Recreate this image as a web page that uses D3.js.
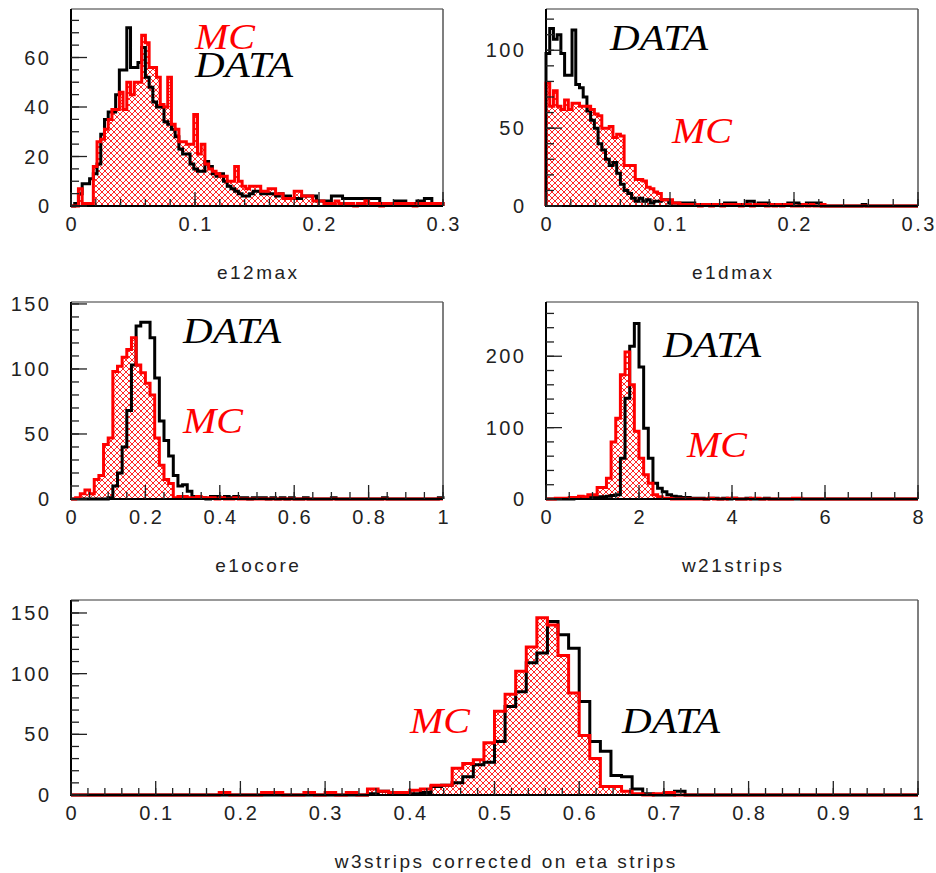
<!DOCTYPE html>
<html><head><meta charset="utf-8">
<script src="https://cdn.jsdelivr.net/npm/d3@7"></script>
<style>
html,body{margin:0;padding:0;background:#fff;}
svg{display:block;}
</style></head><body>
<svg id="c" width="936" height="873"></svg>
<script>
// ---------- DATA ----------
// e12max: 100 bins on [0,0.3]
const e12maxData = [0,1,5,9,9,11,13,17,29,35, 38,38,45,55,55,72,56,56,58,64,
 52,48,42,40,40,34,33,31,28,23, 21,21,17,15,14,14,18,16,13,12,
 13,10,8,7,6,5,4,4,5,6, 6,5,5,5,5,4,5,4,4,3,
 3,3,4,4,4,4,2,2,2,2, 4,4,4,3,3,3,3,3,3,3,
 3,3,3,1,1,1,1,2,2,2, 1,1,1,2,2,3,3,1,1,1];
const e12maxMC = [0,0,7,1,1,1,16,26,27,31, 35,39,39,46,39,50,45,50,50,69,
 66,56,56,52,41,40,52,33,31,26, 26,25,25,37,21,25,17,15,14,13,
 12,12,10,10,16,10,8,7,8,8, 8,6,6,7,7,5,5,3,3,3,
 6,6,4,4,4,2,2,2,1,1, 1,2,1,1,1,1,0,1,1,2,
 1,1,1,0,1,1,1,1,1,1, 1,1,0,1,1,1,1,1,1,1];
const e12maxXTicks = [0,0.1,0.2,0.3];
const e12maxYTicks = [0,20,40,60];

// e1dmax: 100 bins on [0,0.3]
const e1dmaxData = [98,114,107,110,98,84,84,113,78,76, 70,61,55,50,40,36,30,26,28,21,
 14,10,8,5,3,5,3,4,2,3, 3,4,4,2,2,2,2,2,2,2,
 1,1,1,1,1,1,1,1,2,2, 2,1,1,1,3,3,1,2,2,2,
 1,1,1,1,1,2,2,2,1,1, 2,2,2,2,0,0,0,0,0,0,
 0,0,0,0,0,1,0,0,0,0, 0,0,0,0,0,0,0,0,0,0];
const e1dmaxMC = [79,64,74,64,62,68,62,66,66,64, 64,64,62,59,58,50,50,51,44,46,
 45,26,26,26,17,17,16,12,11,9, 8,4,4,4,2,2,1,1,1,1,
 1,0,1,1,0,1,1,0,1,1, 1,1,0,1,1,0,1,1,1,0,
 1,0,1,0,1,1,0,0,0,1, 0,1,0,0,1,0,0,0,0,0,
 0,0,0,0,0,0,0,0,0,0, 0,0,0,0,0,0,0,0,0,0];
const e1dmaxXTicks = [0,0.1,0.2,0.3];
const e1dmaxYTicks = [0,50,100];

// e1ocore: 80 bins on [0,1]
const e1ocoreData = [0,0,0,0,0,0,0,0,1,10, 20,40,68,103,133,136,136,124,93,60,
 45,33,18,10,11,6,2,1,1,0, 2,2,1,2,1,2,1,1,0,1,
 1,1,0,1,0,1,0,1,0,0, 1,0,0,0,0,0,1,0,0,0,
 0,0,0,0,0,0,0,1,0,0, 0,0,0,0,0,0,0,0,0,1];
const e1ocoreMC = [0,1,4,7,4,15,18,42,47,98, 102,109,115,124,103,97,89,80,47,26,
 15,12,1,2,2,1,1,2,1,1, 1,0,1,0,0,1,0,0,0,0,
 0,0,0,0,0,0,0,0,0,0, 0,0,0,0,0,0,0,0,0,0,
 0,0,0,0,0,0,0,0,0,0, 0,0,0,0,0,0,0,0,0,0];
const e1ocoreXTicks = [0,0.2,0.4,0.6,0.8,1];
const e1ocoreYTicks = [0,50,100,150];

// w21strips: 80 bins on [0,8]
const w21stripsData = [0,0,0,0,0,0,1,1,1,2, 2,3,3,4,5,6,57,141,214,246,
 185,99,57,22,15,10,6,4,3,2, 2,1,1,1,0,1,1,0,1,0,
 1,0,0,1,0,0,0,1,0,0, 0,0,0,0,0,0,0,0,0,0,
 0,0,0,0,0,0,0,0,0,0, 0,0,0,0,0,0,0,0,0,0];
const w21stripsMC = [0,0,1,1,1,2,2,4,3,6, 6,16,16,29,80,113,174,206,160,95,
 57,34,22,6,3,1,1,0,0,0, 0,0,0,0,0,1,0,0,0,1,
 1,0,0,0,1,1,0,0,0,0, 0,0,0,1,1,0,0,0,0,0,
 0,0,0,0,0,0,0,0,0,0, 0,0,0,0,0,0,0,0,0,0];
const w21stripsXTicks = [0,2,4,6,8];
const w21stripsYTicks = [0,100,200];

// w3strips: 80 bins on [0,1]
const w3stripsData = [0,0,0,0,0,0,0,0,0,0, 0,0,0,0,0,0,0,0,0,0,
 0,0,0,0,0,0,0,0,1,3, 1,2,1,2,7,8,10,15,25,27,
 44,73,85,109,117,143,132,121,77,44, 36,16,15,5,1,0,0,3,0,0,
 0,0,0,0,0,0,0,0,0,0, 0,0,0,0,0,0,0,0,0,0];
const w3stripsMC = [0,0,0,0,0,0,0,0,0,0, 0,0,0,0,2,0,0,0,2,2,
 0,0,2,0,2,0,2,0,5,3, 2,2,4,5,8,8,22,26,29,43,
 69,83,102,122,146,140,115,84,49,30, 7,7,3,1,0,1,2,0,0,0,
 0,0,0,0,0,0,0,0,0,0, 0,0,0,0,0,0,0,0,0,0];
const w3stripsXTicks = [0,0.1,0.2,0.3,0.4,0.5,0.6,0.7,0.8,0.9,1];
const w3stripsYTicks = [0,50,100,150];

// ---------- LAYOUT ----------
const panels = [
  {x0:71, x1:443, y0:9, y1:206, xDomain:[0,0.3], yMax:79.6, data:e12maxData, mc:e12maxMC,
   xTicks:e12maxXTicks, xMinor:0.02, yTicks:e12maxYTicks, yMinor:5, title:'e12max', titleX:257,
   labels:[{t:'MC',c:'#ff0000',x:195,y:49},{t:'DATA',c:'#000',x:195,y:77}]},
  {x0:546, x1:918, y0:9, y1:206, xDomain:[0,0.3], yMax:126.5, data:e1dmaxData, mc:e1dmaxMC,
   xTicks:e1dmaxXTicks, xMinor:0.02, yTicks:e1dmaxYTicks, yMinor:10, title:'e1dmax', titleX:732,
   labels:[{t:'DATA',c:'#000',x:610,y:50},{t:'MC',c:'#ff0000',x:672,y:143}]},
  {x0:71, x1:443, y0:302, y1:499, xDomain:[0,1], yMax:151.5, data:e1ocoreData, mc:e1ocoreMC,
   xTicks:e1ocoreXTicks, xMinor:0.05, yTicks:e1ocoreYTicks, yMinor:10, title:'e1ocore', titleX:257,
   labels:[{t:'DATA',c:'#000',x:183,y:343},{t:'MC',c:'#ff0000',x:183,y:433}]},
  {x0:546, x1:918, y0:302, y1:499, xDomain:[0,8], yMax:276, data:w21stripsData, mc:w21stripsMC,
   xTicks:w21stripsXTicks, xMinor:0.5, yTicks:w21stripsYTicks, yMinor:20, title:'w21strips', titleX:732,
   labels:[{t:'DATA',c:'#000',x:663,y:357},{t:'MC',c:'#ff0000',x:687,y:457}]},
  {x0:71, x1:918, y0:600, y1:795, xDomain:[0,1], yMax:160.7, data:w3stripsData, mc:w3stripsMC,
   xTicks:w3stripsXTicks, xMinor:0.02, yTicks:w3stripsYTicks, yMinor:10, title:'w3strips corrected on eta strips', titleX:505,
   labels:[{t:'MC',c:'#ff0000',x:410,y:733},{t:'DATA',c:'#000',x:622,y:733}]}
];
const labelWidths = {MC:60, DATA:98};

const svg = d3.select('#c');
svg.append('rect').attr('width',936).attr('height',873).attr('fill','#fff');
const defs = svg.append('defs');
const pat = defs.append('pattern').attr('id','hatch').attr('patternUnits','userSpaceOnUse')
  .attr('width',6).attr('height',6);
pat.append('path').attr('d','M0,0L6,6M6,0L0,6').attr('stroke','#ff0000').attr('stroke-width',0.85).attr('fill','none');

const tickFont = "'Liberation Sans', Arial, sans-serif";
const fmt = v => String(Math.round(v*100)/100);
const LS = 2.5;

function stepPoints(vals, x, y, d0, bw){
  const n = vals.length;
  const pts = [[x(d0), y(0)]];
  vals.forEach((v,i)=>pts.push([x(d0+i*bw), y(v)]));
  pts.push([x(d0+n*bw), y(vals[n-1])]);
  pts.push([x(d0+n*bw), y(0)]);
  return pts;
}

panels.forEach(p=>{
  const x = d3.scaleLinear().domain(p.xDomain).range([p.x0,p.x1]);
  const y = d3.scaleLinear().domain([0,p.yMax]).range([p.y1,p.y0]);
  const g = svg.append('g');
  const bwD = (p.xDomain[1]-p.xDomain[0])/p.data.length;
  const bwM = (p.xDomain[1]-p.xDomain[0])/p.mc.length;
  const line = d3.line().curve(d3.curveStepAfter);
  const mcPts = stepPoints(p.mc, x, y, p.xDomain[0], bwM);
  const dPts = stepPoints(p.data, x, y, p.xDomain[0], bwD);

  g.append('path').attr('d', line(mcPts)+'Z').attr('fill','url(#hatch)').attr('stroke','none');
  g.append('path').attr('d', line(dPts)).attr('fill','none').attr('stroke','#000').attr('stroke-width',3).attr('stroke-linejoin','miter');
  g.append('path').attr('d', line(mcPts)).attr('fill','none').attr('stroke','#ff0000').attr('stroke-width',3).attr('stroke-linejoin','miter');

  // frame
  g.append('line').attr('x1',p.x0).attr('x2',p.x1).attr('y1',p.y0).attr('y2',p.y0).attr('stroke','#777').attr('stroke-width',1.5);
  g.append('line').attr('x1',p.x1).attr('x2',p.x1).attr('y1',p.y0).attr('y2',p.y1).attr('stroke','#555').attr('stroke-width',1.5);
  g.append('line').attr('x1',p.x0).attr('x2',p.x0).attr('y1',p.y0).attr('y2',p.y1+1).attr('stroke','#000').attr('stroke-width',2);
  g.append('line').attr('x1',p.x0-1).attr('x2',p.x1).attr('y1',p.y1).attr('y2',p.y1).attr('stroke','#000').attr('stroke-width',2.2);

  // x ticks
  const xMin = d3.range(p.xDomain[0], p.xDomain[1]+1e-9, p.xMinor);
  g.selectAll(null).data(xMin).enter().append('line')
    .attr('x1',d=>x(d)).attr('x2',d=>x(d)).attr('y1',p.y1).attr('y2',p.y1-7)
    .attr('stroke','#222').attr('stroke-width',1.3);
  g.selectAll(null).data(p.xTicks).enter().append('line')
    .attr('x1',d=>x(d)).attr('x2',d=>x(d)).attr('y1',p.y1).attr('y2',p.y1-14)
    .attr('stroke','#222').attr('stroke-width',1.3);
  g.selectAll(null).data(p.xTicks).enter().append('text')
    .attr('x',d=>x(d)+LS/2).attr('y',p.y1+25).attr('text-anchor','middle')
    .attr('font-family',tickFont).attr('font-size',20).attr('letter-spacing',LS).attr('fill','#222')
    .text(fmt);

  // y ticks
  const yMin = d3.range(0, p.yMax, p.yMinor);
  g.selectAll(null).data(yMin).enter().append('line')
    .attr('x1',p.x0).attr('x2',p.x0+8).attr('y1',d=>y(d)).attr('y2',d=>y(d))
    .attr('stroke','#222').attr('stroke-width',1.3);
  g.selectAll(null).data(p.yTicks).enter().append('line')
    .attr('x1',p.x0).attr('x2',p.x0+16).attr('y1',d=>y(d)).attr('y2',d=>y(d))
    .attr('stroke','#222').attr('stroke-width',1.3);
  g.selectAll(null).data(p.yTicks).enter().append('text')
    .attr('x',p.x0-22+LS).attr('y',d=>y(d)+7).attr('text-anchor','end')
    .attr('font-family',tickFont).attr('font-size',20).attr('letter-spacing',LS).attr('fill','#222')
    .text(fmt);

  // title
  g.append('text').attr('x',p.titleX+LS/2).attr('y',p.y1+73).attr('text-anchor','middle')
    .attr('font-family',tickFont).attr('font-size',19).attr('letter-spacing',LS).attr('fill','#222')
    .text(p.title);

  // labels
  p.labels.forEach(l=>{
    g.append('text').attr('x',l.x).attr('y',l.y)
      .attr('font-family',"'Liberation Serif','Times New Roman',serif").attr('font-style','italic')
      .attr('font-size',36).attr('fill',l.c)
      .attr('textLength',labelWidths[l.t]).attr('lengthAdjust','spacingAndGlyphs')
      .text(l.t);
  });
});
</script>
</body></html>
